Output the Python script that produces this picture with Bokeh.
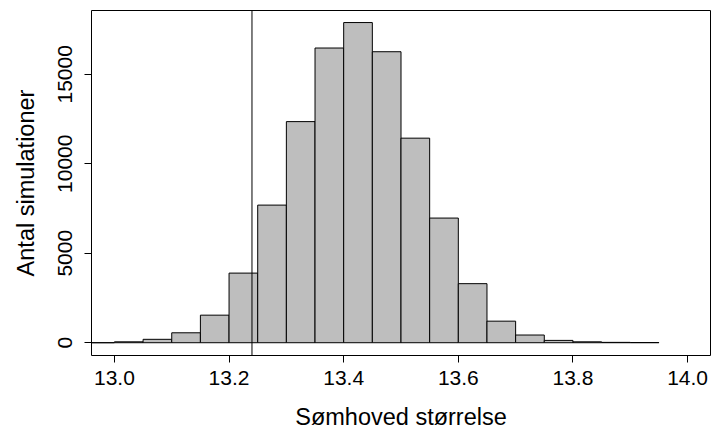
from bokeh.plotting import figure
from bokeh.models import ColumnDataSource, Range1d, Span, FixedTicker, NumeralTickFormatter
from bokeh.embed import file_html
from bokeh.resources import INLINE

# Histogram data (bin edges and counts)
bin_left = [12.90, 12.95, 13.00, 13.05, 13.10, 13.15, 13.20, 13.25, 13.30, 13.35,
            13.40, 13.45, 13.50, 13.55, 13.60, 13.65, 13.70, 13.75, 13.80, 13.85, 13.90]
bin_width = 0.05
counts = [0, 0, 50, 190, 555, 1540, 3890, 7690, 12355, 16467,
          17890, 16260, 11430, 6965, 3300, 1205, 430, 130, 50, 20, 10]
observed = 13.24

x_ticks = [13.0, 13.2, 13.4, 13.6, 13.8, 14.0]
y_ticks = [0, 5000, 10000, 15000]
x_label = "Sømhoved størrelse"
y_label = "Antal simulationer"

FONT = "Liberation Sans"
FS = "21px"
FS_TITLE = "23.5px"

src = ColumnDataSource(dict(
    left=bin_left,
    right=[b + bin_width for b in bin_left],
    top=counts,
    bottom=[0] * len(counts),
))

p = figure(width=714, height=432,
           x_range=Range1d(12.96, 14.04), y_range=Range1d(-714, 18564),
           output_backend="svg", toolbar_location=None,
           min_border_left=91, min_border_right=4, min_border_top=10, min_border_bottom=75)

p.quad(left="left", right="right", top="top", bottom="bottom", source=src,
       fill_color="#BEBEBE", line_color="black", line_width=1)

p.add_layout(Span(location=observed, dimension="height", line_color="black", line_width=1))

p.grid.visible = False
p.outline_line_color = "black"
p.outline_line_width = 1
p.outline_line_alpha = 1
p.background_fill_color = "white"
p.border_fill_color = "white"

for ax in (p.xaxis[0], p.yaxis[0]):
    ax.axis_line_color = None
    ax.major_tick_line_color = "black"
    ax.major_tick_out = 7
    ax.major_tick_in = 0
    ax.minor_tick_line_color = None
    ax.major_label_text_font = FONT
    ax.major_label_text_font_size = FS
    ax.major_label_text_color = "black"
    ax.axis_label_text_font = FONT
    ax.axis_label_text_font_size = FS_TITLE
    ax.axis_label_text_font_style = "normal"
    ax.axis_label_text_color = "black"

p.xaxis[0].ticker = FixedTicker(ticks=x_ticks)
p.xaxis[0].formatter = NumeralTickFormatter(format="0.0")
p.xaxis[0].axis_label = x_label
p.xaxis[0].major_label_standoff = 8
p.xaxis[0].axis_label_standoff = 16

p.yaxis[0].ticker = FixedTicker(ticks=y_ticks)
p.yaxis[0].formatter = NumeralTickFormatter(format="0")
p.yaxis[0].major_label_orientation = "vertical"
p.yaxis[0].axis_label = y_label
p.yaxis[0].major_label_standoff = 12
p.yaxis[0].axis_label_standoff = 17

open("out.html", "w").write(file_html(p, INLINE))
